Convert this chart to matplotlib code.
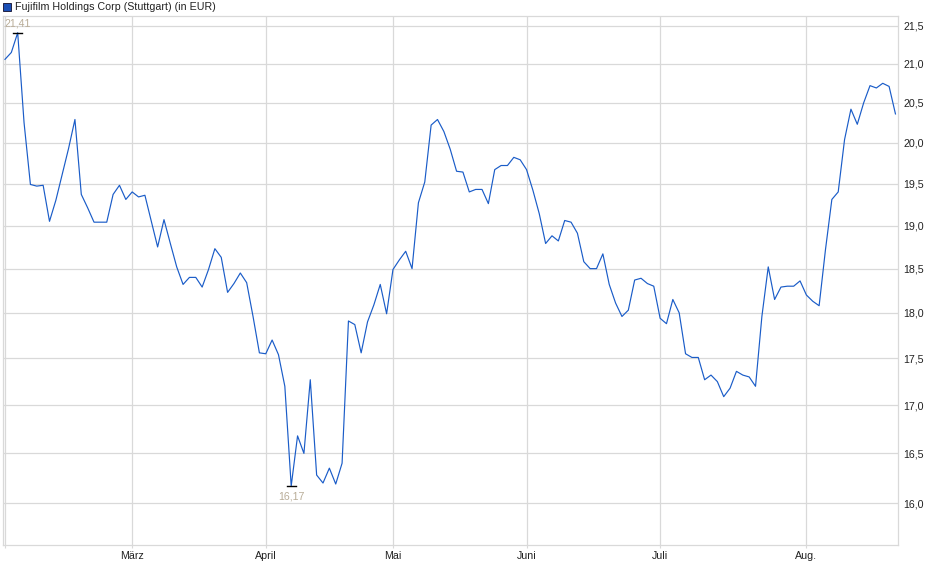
import matplotlib
matplotlib.use("Agg")
import matplotlib.pyplot as plt
import matplotlib.ticker as mticker
from matplotlib.patches import Rectangle
import pandas as pd
import numpy as np

plt.rcParams['font.family'] = ['Liberation Sans', 'DejaVu Sans']

# trading days at Stuttgart, Feb 3 2025 .. Aug 21 2025 (holidays removed)
holidays = pd.to_datetime(["2025-04-18", "2025-04-21", "2025-05-01"])
dates = [d for d in pd.bdate_range("2025-02-03", "2025-08-21") if d not in holidays]

prices = [
    21.06, 21.15, 21.41, 20.25, 19.49, 19.47, 19.48, 19.05, 19.30, 19.61,
    19.93, 20.29, 19.37, 19.21, 19.04, 19.04, 19.04, 19.37, 19.48, 19.31,
    19.40, 19.34, 19.36, 19.05, 18.75, 19.07, 18.79, 18.52, 18.32, 18.40,
    18.40, 18.29, 18.49, 18.73, 18.63, 18.23, 18.33, 18.45, 18.34, 17.96,
    17.56, 17.55, 17.70, 17.54, 17.20, 16.17, 16.68, 16.50, 17.27, 16.28,
    16.20, 16.35, 16.19, 16.40, 17.91, 17.87, 17.56, 17.90, 18.09, 18.32,
    17.99, 18.49, 18.60, 18.70, 18.50, 19.27, 19.52, 20.22, 20.29, 20.14,
    19.92, 19.65, 19.64, 19.40, 19.43, 19.43, 19.26, 19.67, 19.72, 19.72,
    19.82, 19.79, 19.67, 19.42, 19.14, 18.79, 18.88, 18.82, 19.06, 19.04,
    18.91, 18.58, 18.50, 18.50, 18.67, 18.32, 18.11, 17.96, 18.03, 18.37,
    18.39, 18.33, 18.30, 17.94, 17.88, 18.15, 18.00, 17.55, 17.51, 17.51,
    17.27, 17.32, 17.25, 17.09, 17.18, 17.36, 17.32, 17.30, 17.20, 17.96,
    18.52, 18.15, 18.29, 18.30, 18.30, 18.36, 18.20, 18.13, 18.08, 18.72,
    19.31, 19.40, 20.04, 20.42, 20.23, 20.50, 20.72, 20.69, 20.75, 20.71,
    20.36,
]

month_names = {2: "", 3: "März", 4: "April", 5: "Mai", 6: "Juni", 7: "Juli", 8: "Aug."}
y_ticks = [16.0, 16.5, 17.0, 17.5, 18.0, 18.5, 19.0, 19.5, 20.0, 20.5, 21.0, 21.5]
title = "Fujifilm Holdings Corp (Stuttgart) (in EUR)"

W, H = 940, 579
fig = plt.figure(figsize=(W / 100, H / 100), dpi=100)
ax = fig.add_axes([3 / W, (H - 545) / H, (898 - 3) / W, (545 - 16) / H])

x = np.arange(len(prices))
line_color = "#1a5cc8"
grid_color = "#d9d9d9"
fs = 7.7

ax.plot(x, prices, color=line_color, lw=0.85, zorder=3)

ax.set_yscale("log")
ax.set_ylim(15.59, 21.633)
ax.set_xlim(-0.31, 140.4)

ax.yaxis.set_major_locator(mticker.FixedLocator(y_ticks))
ax.yaxis.set_minor_locator(mticker.NullLocator())
ax.yaxis.set_major_formatter(mticker.FuncFormatter(lambda v, p: f"{v:.1f}".replace(".", ",")))
ax.yaxis.tick_right()
ax.tick_params(axis="y", length=0, pad=4, labelsize=fs, labelcolor="#222222")

# month ticks at first trading day of each month
mt_pos, mt_lab = [], []
prev = None
for i, d in enumerate(dates):
    if d.month != prev:
        mt_pos.append(i)
        mt_lab.append(month_names.get(d.month, ""))
        prev = d.month
ax.set_xticks(mt_pos)
ax.set_xticklabels(mt_lab)
ax.xaxis.set_minor_locator(mticker.NullLocator())
ax.tick_params(axis="x", length=2, width=0.8, color=grid_color, pad=2,
               labelsize=fs, labelcolor="#222222")

ax.grid(True, color=grid_color, lw=0.9, zorder=0)
for s in ax.spines.values():
    s.set_color(grid_color)
    s.set_linewidth(0.9)

# high / low markers
imax = int(np.argmax(prices))
imin = int(np.argmin(prices))
ann_color = "#b9ad98"
for idx, off, va in [(imax, 3, "bottom"), (imin, -4, "top")]:
    v = prices[idx]
    ax.plot([idx - 0.68, idx + 0.68], [v, v], color="black", lw=1.0, zorder=4)
    ax.annotate(f"{v:.2f}".replace(".", ","), (idx, v), xytext=(0, off),
                textcoords="offset points", ha="center", va=va,
                fontsize=fs, color=ann_color, zorder=5)

# legend
fig.patches.append(Rectangle((3 / W, (H - 11) / H), 8 / W, 8 / H, transform=fig.transFigure,
                             facecolor="#1a4fb5", edgecolor="#222244", lw=0.7))
fig.text(15 / W, (H - 6.5) / H, title, fontsize=fs, color="#222222", va="center", ha="left")

fig.savefig("out.png", dpi=100)
